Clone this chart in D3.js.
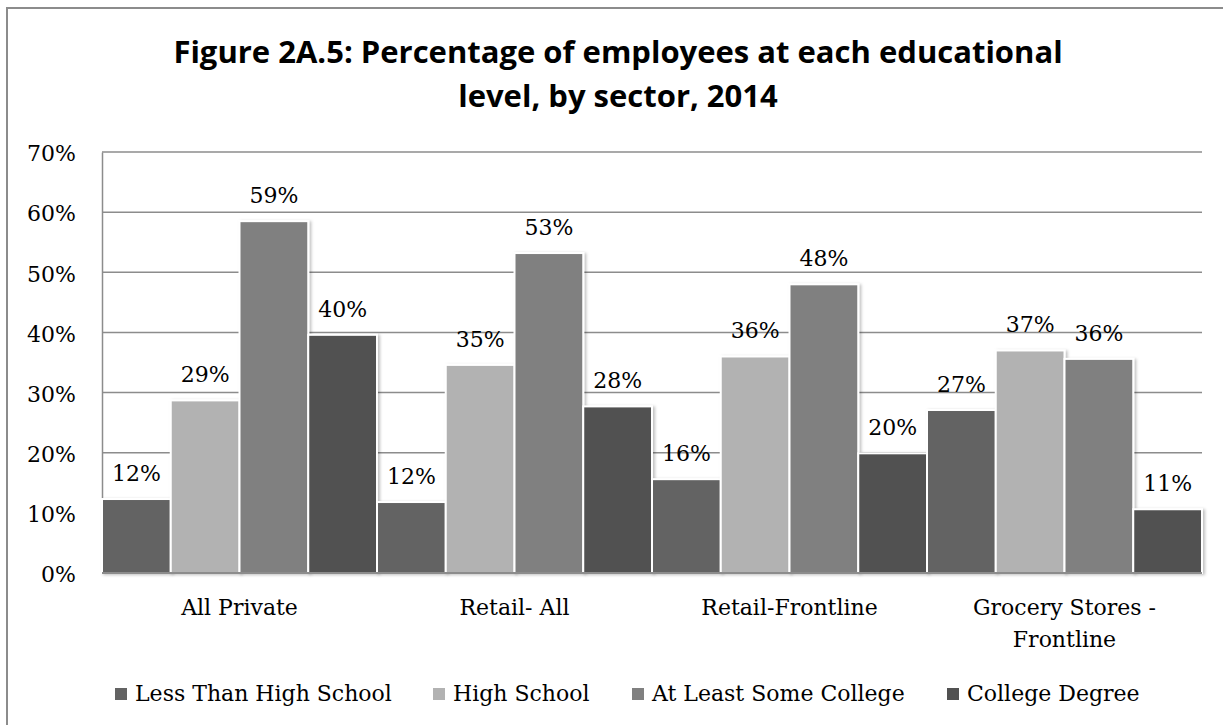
<!DOCTYPE html>
<html>
<head>
<meta charset="utf-8">
<script src="https://cdn.jsdelivr.net/npm/d3@7"></script>
<style>
  body { margin: 0; background: #fff; }
  svg { display: block; }
  .tick text, .lbl, .legend text { font-family: "DejaVu Serif", serif; fill: #000; }
</style>
</head>
<body>
<svg width="1223" height="725"></svg>
<script>
const sectors = ['All Private', 'Retail- All', 'Retail-Frontline', 'Grocery Stores - Frontline'];
const sectorLines = [['All Private'], ['Retail- All'], ['Retail-Frontline'], ['Grocery Stores -', 'Frontline']];
const levels = ['Less Than High School', 'High School', 'At Least Some College', 'College Degree'];
const colors = ['#636363', '#b2b2b2', '#808080', '#515151'];
// percent per sector, one entry per level
const lessThanHS = [12.3, 11.8, 15.6, 27.1];
const highSchool = [28.7, 34.6, 36.0, 37.0];
const someCollege = [58.5, 53.2, 48.0, 35.6];
const collegeDeg = [39.6, 27.7, 19.9, 10.6];
const yTicks = [0, 10, 20, 30, 40, 50, 60, 70];

const series = [lessThanHS, highSchool, someCollege, collegeDeg];

const svg = d3.select('svg');
const W = 1223, H = 725;
const margin = { left: 102, right: 21, top: 152, bottom: 152 };
const plotBottom = 573;
const fs = '22px';

// outer frame
svg.append('rect')
  .attr('x', 7).attr('y', 8)
  .attr('width', W).attr('height', H)
  .attr('fill', 'none')
  .attr('stroke', '#8c8c8c')
  .attr('stroke-width', 2);

const defs = svg.append('defs');
const f = defs.append('filter').attr('id', 'shadow')
  .attr('x', '-10%').attr('y', '-10%').attr('width', '130%').attr('height', '120%');
f.append('feDropShadow')
  .attr('dx', 2).attr('dy', 1).attr('stdDeviation', 1.5)
  .attr('flood-color', '#000').attr('flood-opacity', 0.25);

// title
const title = svg.append('text')
  .attr('text-anchor', 'middle')
  .style('font-family', '"Open Sans", sans-serif')
  .style('font-weight', 'bold')
  .style('font-size', '31px');
title.append('tspan').attr('x', 618).attr('y', 63).text('Figure 2A.5: Percentage of employees at each educational');
title.append('tspan').attr('x', 618).attr('y', 107).text('level, by sector, 2014');

const x0 = d3.scaleBand()
  .domain(sectors)
  .range([margin.left, W - margin.right])
  .paddingInner(0).paddingOuter(0);

const x1 = d3.scaleBand()
  .domain(d3.range(levels.length))
  .range([0, x0.bandwidth()])
  .padding(0);

const y = d3.scaleLinear()
  .domain([0, 70])
  .range([plotBottom, margin.top]);

// gridlines
svg.append('g')
  .selectAll('line')
  .data(yTicks)
  .join('line')
  .attr('x1', margin.left).attr('x2', W - margin.right)
  .attr('y1', d => y(d)).attr('y2', d => y(d))
  .attr('stroke', '#8c8c8c')
  .attr('stroke-width', 1.5);

// y axis
const yAxis = svg.append('g')
  .attr('transform', `translate(${margin.left},0)`)
  .call(d3.axisLeft(y).tickValues(yTicks).tickFormat(d => d + '%').tickSize(0).tickPadding(26));
yAxis.select('.domain').attr('stroke', '#8c8c8c').attr('stroke-width', 1.5);
yAxis.selectAll('.tick text').style('font-size', fs).attr('dy', '0.4em');

// bars
const rows = sectors.map((s, i) => ({ sector: s, vals: series.map(arr => arr[i]) }));

const groups = svg.append('g')
  .selectAll('g')
  .data(rows)
  .join('g')
  .attr('transform', d => `translate(${x0(d.sector)},0)`);

groups.selectAll('rect')
  .data(d => d.vals.map((v, k) => ({ v, k })))
  .join('rect')
  .attr('x', d => x1(d.k))
  .attr('y', d => y(d.v))
  .attr('width', x1.bandwidth())
  .attr('height', d => plotBottom - y(d.v))
  .attr('fill', d => colors[d.k])
  .attr('stroke', '#fff')
  .attr('stroke-width', 2)
  .attr('filter', 'url(#shadow)');

groups.selectAll('text.lbl')
  .data(d => d.vals.map((v, k) => ({ v, k })))
  .join('text')
  .attr('class', 'lbl')
  .attr('x', d => x1(d.k) + x1.bandwidth() / 2)
  .attr('y', d => y(d.v) - 18)
  .attr('text-anchor', 'middle')
  .style('font-size', fs)
  .text(d => Math.round(d.v) + '%');

// bottom axis line
svg.append('line')
  .attr('x1', margin.left).attr('x2', W - margin.right)
  .attr('y1', plotBottom).attr('y2', plotBottom)
  .attr('stroke', '#8c8c8c').attr('stroke-width', 2);

// category labels
const cat = svg.append('g')
  .selectAll('text')
  .data(sectors)
  .join('text')
  .attr('class', 'lbl')
  .attr('text-anchor', 'middle')
  .style('font-size', fs);
cat.each(function (d, i) {
  const t = d3.select(this);
  sectorLines[i].forEach((line, j) => {
    t.append('tspan')
      .attr('x', x0(d) + x0.bandwidth() / 2)
      .attr('y', 615 + j * 32)
      .text(line);
  });
});

// legend
const legendX = [115, 433, 632, 947];
const legend = svg.append('g').attr('class', 'legend')
  .selectAll('g')
  .data(levels)
  .join('g')
  .attr('transform', (d, i) => `translate(${legendX[i]},0)`);
legend.append('rect')
  .attr('x', 0).attr('y', 688)
  .attr('width', 12).attr('height', 12)
  .attr('fill', (d, i) => colors[i]);
legend.append('text')
  .attr('x', 20).attr('y', 701)
  .style('font-size', fs)
  .text(d => d);
</script>
</body>
</html>
